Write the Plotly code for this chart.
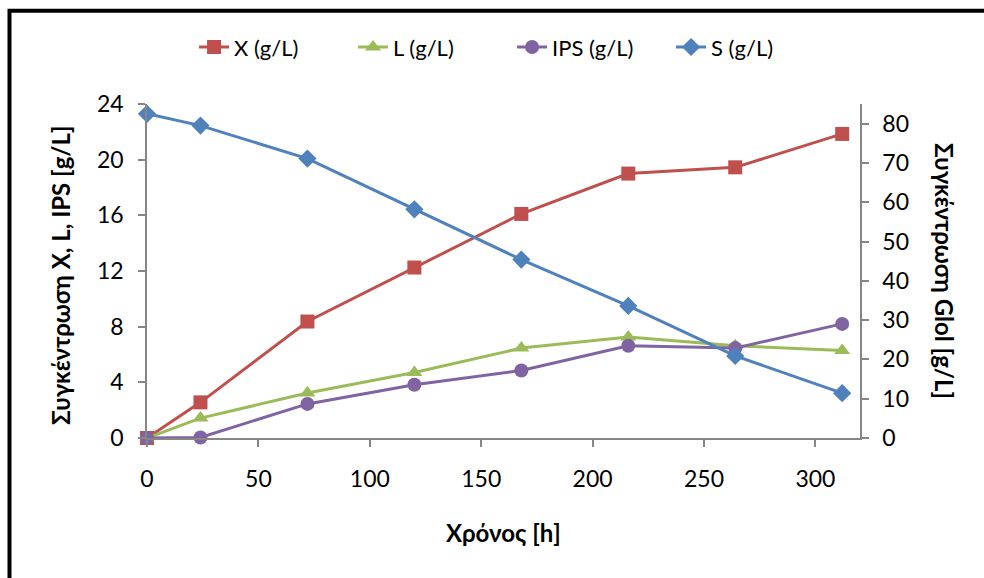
import plotly.graph_objects as go

time_h = [0, 24, 72, 120, 168, 216, 264, 312]
X_gL = [0.0, 2.56, 8.37, 12.25, 16.1, 19.0, 19.45, 21.85]
L_gL = [0.0, 1.43, 3.23, 4.71, 6.46, 7.25, 6.63, 6.29]
IPS_gL = [0.0, 0.04, 2.45, 3.83, 4.85, 6.63, 6.46, 8.2]
S_gL = [82.5, 79.5, 71.1, 58.2, 45.4, 33.6, 20.9, 11.4]

names = ["X (g/L)", "L (g/L)", "IPS (g/L)", "S (g/L)"]
colors = ["#C0504D", "#9BBB59", "#8064A2", "#4F81BD"]
symbols = ["square", "triangle-up", "circle", "diamond"]
sizes = [14, 14, 14, 14]

FONT = "Lato"
fig = go.Figure()
series = [X_gL, L_gL, IPS_gL, S_gL]
for i, ys in enumerate(series):
    fig.add_trace(go.Scatter(
        x=time_h, y=ys, name=names[i], mode="lines+markers",
        line=dict(color=colors[i], width=3),
        marker=dict(symbol=symbols[i], size=sizes[i], color=colors[i]),
        yaxis="y2" if i == 3 else "y",
        cliponaxis=False,
    ))

axis_common = dict(showgrid=False, zeroline=False, showline=True,
                   linecolor="#868686", linewidth=1.5, ticks="outside",
                   ticklen=7, tickcolor="#868686", tickwidth=1.5,
                   tickfont=dict(family=FONT, size=23, color="black"))

fig.update_layout(
    width=984, height=578,
    margin=dict(l=147, r=124, t=104, b=140),
    paper_bgcolor="white", plot_bgcolor="white",
    font=dict(family=FONT, color="black"),
    showlegend=True,
    legend=dict(orientation="h", x=0.512, xanchor="center", y=1.17, yanchor="middle",
                font=dict(family=FONT, size=22), entrywidth=114, entrywidthmode="pixels",
                traceorder="normal"),
    xaxis=dict(range=[0, 320], tickmode="array", tickvals=[0, 50, 100, 150, 200, 250, 300],
               ticklabelstandoff=13, **axis_common),
    yaxis=dict(range=[0, 24], tickmode="array", tickvals=[0, 4, 8, 12, 16, 20, 24],
               ticklabelstandoff=10, **axis_common),
    yaxis2=dict(range=[0, 85], tickmode="array", tickvals=[0, 10, 20, 30, 40, 50, 60, 70, 80],
                overlaying="y", side="right", ticklabelstandoff=9, **axis_common),
    annotations=[
        dict(text="<b>Χρόνος [h]</b>", xref="paper", yref="paper", x=(503 - 147) / 713,
             y=(438 - 532) / 334, showarrow=False, font=dict(family=FONT, size=24),
             xanchor="center", yanchor="middle"),
        dict(text="<b>Συγκέντρωση X, L, IPS [g/L]</b>", xref="paper", yref="paper",
             x=(60 - 147) / 713, y=(438 - 275) / 334, textangle=-90, showarrow=False,
             font=dict(family=FONT, size=24), xanchor="center", yanchor="middle"),
        dict(text="<b>Συγκέντρωση Glol [g/L]</b>", xref="paper", yref="paper",
             x=(945 - 147) / 713, y=(438 - 271) / 334, textangle=90, showarrow=False,
             font=dict(family=FONT, size=24), xanchor="center", yanchor="middle"),
    ],
    shapes=[
        dict(type="rect", xref="paper", yref="paper",
             x0=(9.5 - 147) / 713, x1=(1000 - 147) / 713,
             y0=(438 - 600) / 334, y1=(438 - 10.7) / 334,
             line=dict(color="black", width=4), fillcolor="rgba(0,0,0,0)", layer="above"),
    ],
)

fig.write_html("out.html")
